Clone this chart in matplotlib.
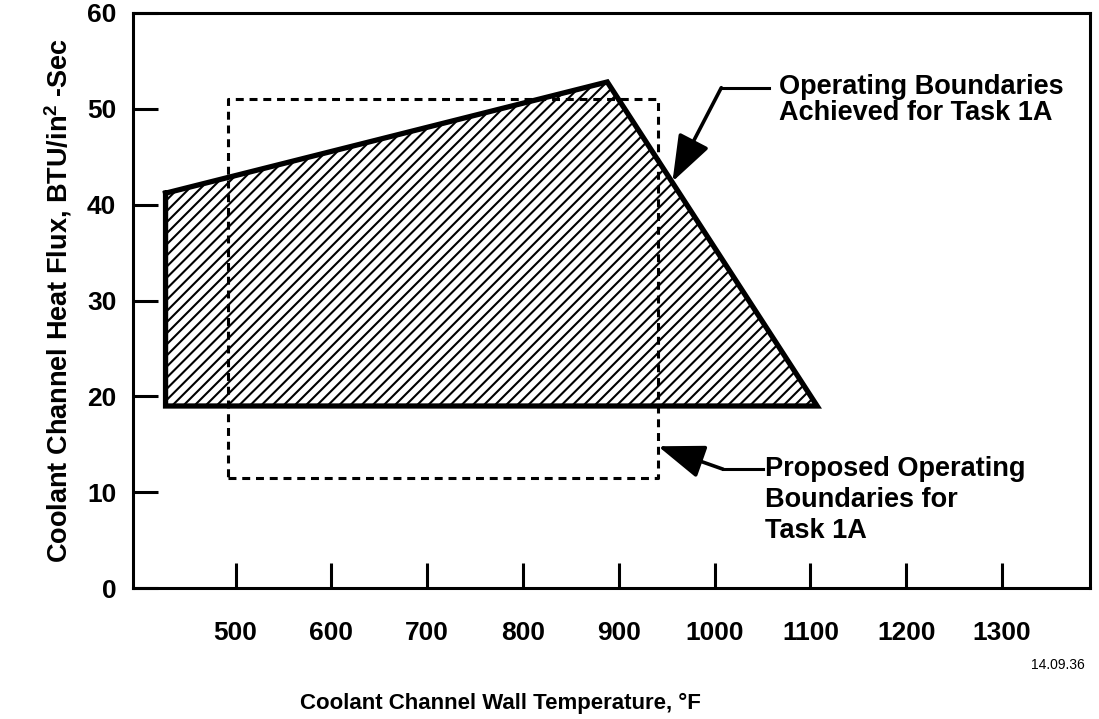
import matplotlib
matplotlib.use("Agg")
import matplotlib.pyplot as plt

plt.rcParams['font.family'] = ['Liberation Sans', 'DejaVu Sans']
plt.rcParams['font.weight'] = 'bold'
plt.rcParams['mathtext.fontset'] = 'custom'
plt.rcParams['mathtext.rm'] = 'Liberation Sans:bold'
plt.rcParams['mathtext.bf'] = 'Liberation Sans:bold'
plt.rcParams['hatch.linewidth'] = 1.5

# achieved operating boundary (polygon vertices)
achieved_temp = [427, 888, 1107, 427]
achieved_flux = [41.2, 52.8, 19.0, 19.0]

# proposed operating boundary (rectangle corners)
proposed_temp = [492, 941]
proposed_flux = [11.5, 51.0]

x_ticks = [500, 600, 700, 800, 900, 1000, 1100, 1200, 1300]
y_ticks = [0, 10, 20, 30, 40, 50, 60]

fig = plt.figure(figsize=(10.99, 7.19), dpi=100)
ax = fig.add_axes([0.121, 0.182, 0.871, 0.800])

# hatched achieved region
ax.fill(achieved_temp, achieved_flux, facecolor='white', edgecolor='black',
        hatch='///', lw=0, zorder=2)
ax.plot(achieved_temp + achieved_temp[:1], achieved_flux + achieved_flux[:1],
        color='black', lw=3.8, solid_joinstyle='miter', zorder=3)

# dashed proposed rectangle
t0, t1 = proposed_temp
f0, f1 = proposed_flux
ax.plot([t0, t1, t1, t0, t0], [f0, f0, f1, f1, f0], color='black', lw=2.2,
        dashes=(2.6, 1.9), zorder=4)

# callout arrows
head = '-|>,head_length=1.1,head_width=0.4'
ax.plot([1057, 1007], [52.2, 52.2], color='black', lw=2.2, zorder=5)
ax.annotate('', xy=(956, 42.4), xytext=(1007, 52.2),
            arrowprops=dict(arrowstyle=head, lw=2.6, color='black',
                            mutation_scale=26, shrinkA=0, shrinkB=0), zorder=5)
ax.text(1067, 50.9, 'Operating Boundaries\nAchieved for Task 1A', fontsize=19.5,
        fontweight='bold', ha='left', va='center', linespacing=1.0)

ax.plot([1050, 1009], [12.4, 12.4], color='black', lw=2.2, zorder=5)
ax.annotate('', xy=(941, 14.8), xytext=(1009, 12.4),
            arrowprops=dict(arrowstyle=head, lw=2.6, color='black',
                            mutation_scale=26, shrinkA=0, shrinkB=0), zorder=5)
ax.text(1053, 9.2, 'Proposed Operating\nBoundaries for\nTask 1A', fontsize=19.5,
        fontweight='bold', ha='left', va='center', linespacing=1.25)

ax.set_xlim(393, 1392)
ax.set_ylim(0, 60)
ax.set_xticks(x_ticks)
ax.set_yticks(y_ticks)
ax.tick_params(direction='in', length=18, width=2.2, labelsize=19, pad=24)
ax.tick_params(axis='y', pad=12)
for lbl in ax.get_xticklabels() + ax.get_yticklabels():
    lbl.set_fontweight('bold')
for sp in ax.spines.values():
    sp.set_linewidth(2.2)

ax.set_ylabel(r'Coolant Channel Heat Flux, BTU/in$^{2}$ -Sec', fontsize=19.5,
              fontweight='bold', labelpad=9)
fig.text(0.455, 0.022, 'Coolant Channel Wall Temperature, °F', fontsize=16,
         fontweight='bold', ha='center', va='center')
fig.text(0.987, 0.075, '14.09.36', fontsize=10, fontweight='normal',
         ha='right', va='center')

fig.savefig('out.png', dpi=100)
